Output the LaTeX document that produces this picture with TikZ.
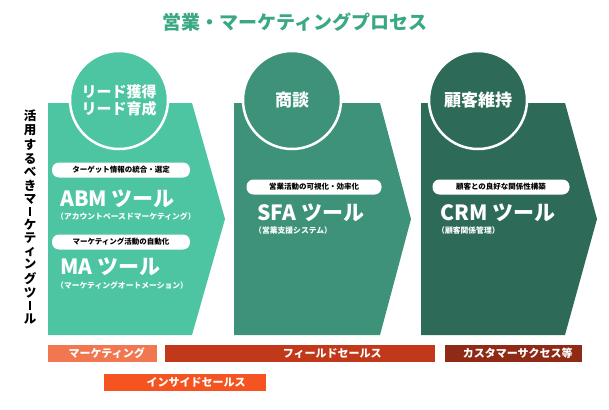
\documentclass[tikz,border=0pt]{standalone}
\usepackage{fontspec}
\setmainfont{Noto Sans CJK JP}
\definecolor{teal1}{HTML}{4DC5A3}
\definecolor{teal2}{HTML}{3D9279}
\definecolor{teal3}{HTML}{2D6B58}
\definecolor{titlegreen}{HTML}{3AA882}
\definecolor{barmk}{HTML}{F0774F}
\definecolor{barfs}{HTML}{C1391A}
\definecolor{barcs}{HTML}{8F2A16}
\definecolor{baris}{HTML}{F5531F}
\tikzset{
  stage/.style={draw=white, line width=2.5pt, circle, minimum size=98pt, inner sep=0pt, text=white, font=\bfseries\fontsize{17}{19}\selectfont, align=center},
  pill/.style={fill=white, rounded corners=7pt, minimum height=15pt, inner sep=0pt, font=\bfseries\fontsize{7.5}{8}\selectfont},
  tool/.style={text=white, anchor=west, inner sep=0pt, font=\bfseries\fontsize{21}{22}\selectfont},
  sub/.style={text=white, anchor=west, inner sep=0pt, font=\bfseries\fontsize{7.8}{8}\selectfont},
  bar/.style={text=white, anchor=west, inner sep=0pt, minimum height=17pt, font=\bfseries\fontsize{11}{12}\selectfont}
}
\newcommand{\vbar}{\makebox[11pt]{\rule[-1pt]{1.4pt}{9pt}}}
\begin{document}
\begin{tikzpicture}[x=1pt,y=-1pt]
\useasboundingbox (0,0) rectangle (609,409);
\node[text=titlegreen, font=\bfseries\fontsize{19}{20}\selectfont] (title) at (295,22) {営業・マーケティングプロセス};
% chevrons
\fill[teal1] (48,103) -- (192,103) -- (225,219) -- (192,335) -- (48,335) -- cycle;
\fill[teal2] (234,103) -- (380,103) -- (411,219) -- (380,335) -- (234,335) -- cycle;
\fill[teal3] (421,103) -- (565,103) -- (597,219) -- (565,335) -- (421,335) -- cycle;
% stages
\node[stage, fill=teal1, font=\bfseries\fontsize{15}{17}\selectfont] (lead) at (119,100) {リード獲得\\リード育成};
\node[stage, fill=teal2] (deal) at (292,100) {商談};
\node[stage, fill=teal3] (keep) at (478,100) {顧客維持};
% vertical label
\node[font=\bfseries\fontsize{12.5}{14.4}\selectfont, align=center, inner sep=0pt] (uselabel) at (30,217)
  {\shortstack{活\\用\\す\\る\\べ\\き\\マ\\\vbar\\ケ\\テ\\ィ\\ン\\グ\\ツ\\\vbar\\ル}};
% tools
\node[pill, minimum width=138pt] (abmpill) at (121,170) {ターゲット情報の統合・選定};
\node[tool] (abm) at (60,199) {ABM ツール};
\node[sub] (abmsub) at (56,216) {（アカウントベースドマーケティング）};
\node[pill, minimum width=138pt] (mapill) at (121,242) {マーケティング活動の自動化};
\node[tool] (ma) at (60,267) {MA ツール};
\node[sub] (masub) at (56,285) {（マーケティングオートメーション）};
\node[pill, minimum width=135pt] (sfapill) at (314,187) {営業活動の可視化・効率化};
\node[tool] (sfa) at (257,213) {SFA ツール};
\node[sub] (sfasub) at (254,231) {（営業支援システム）};
\node[pill, minimum width=137pt] (crmpill) at (501,187) {顧客との良好な関係性構築};
\node[tool] (crm) at (440,213) {CRM ツール};
\node[sub] (crmsub) at (437,231) {（顧客関係管理）};
% bars
\node[bar, fill=barmk, minimum width=109pt] (mk) at (48,353.5) {\hspace{8pt}マーケティング};
\node[bar, fill=barfs, minimum width=270pt] (fs) at (165,353.5) {\hspace{64pt}フィールドセールス};
\node[bar, fill=barcs, minimum width=137pt] (cs) at (445,353.5) {\hspace{8pt}カスタマーサクセス等};
\node[bar, fill=baris, minimum width=162pt] (is) at (104,382) {\hspace{22pt}インサイドセールス};
\end{tikzpicture}
\end{document}
